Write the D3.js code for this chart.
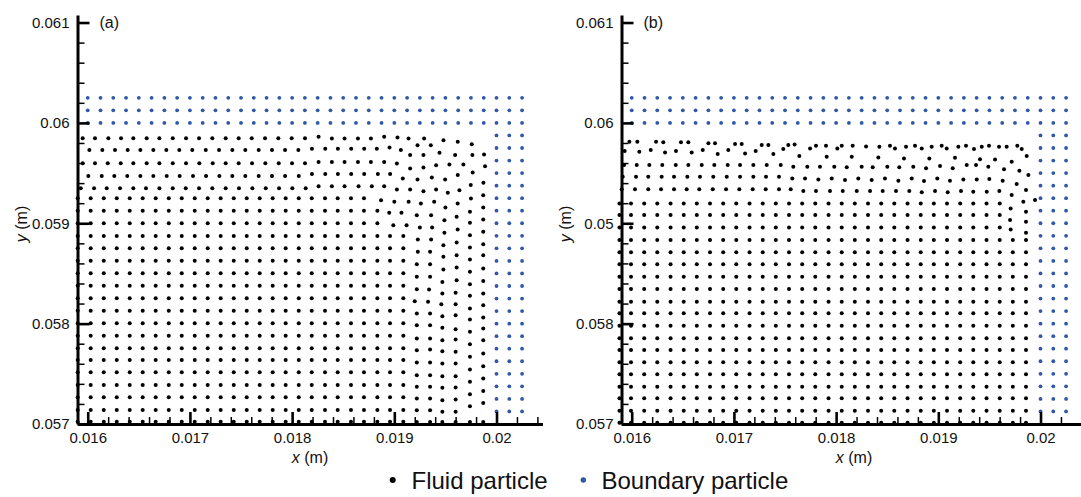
<!DOCTYPE html>
<html>
<head>
<meta charset="utf-8">
<script src="https://cdn.jsdelivr.net/npm/d3@7"></script>
<style>
  html, body { margin: 0; padding: 0; background: #fff; }
  svg { display: block; font-family: "Liberation Sans", Arial, sans-serif; }
</style>
</head>
<body>
<svg id="chart" width="1081" height="497"></svg>
<script>
// Particle positions are stored in millimetres; axis labels show metres.

const xTickValues = [16, 17, 18, 19, 20];
const xTickLabels = ["0.016", "0.017", "0.018", "0.019", "0.02"];
const yTickValues = [57, 58, 59, 60, 61];
const yTickLabelsA = ["0.057", "0.058", "0.059", "0.06", "0.061"];
const yTickLabelsB = ["0.057", "0.058", "0.05", "0.06", "0.061"];

// Boundary particles: top lid (3 layers) and right wall (3 layers)
const lidX = [16.0, 16.125, 16.25, 16.375, 16.5, 16.625, 16.75, 16.875, 17.0, 17.125, 17.25, 17.375,
  17.5, 17.625, 17.75, 17.875, 18.0, 18.125, 18.25, 18.375, 18.5, 18.625, 18.75, 18.875, 19.0,
  19.125, 19.25, 19.375, 19.5, 19.625, 19.75, 19.875, 20.0, 20.125, 20.25];
const lidY = [60.0, 60.125, 60.25];
const wallX = [20.0, 20.125, 20.25];
const wallY = [57.125, 57.25, 57.375, 57.5, 57.625, 57.75, 57.875, 58.0, 58.125, 58.25, 58.375,
  58.5, 58.625, 58.75, 58.875, 59.0, 59.125, 59.25, 59.375, 59.5, 59.625, 59.75, 59.875];

// ---- Case (a): fluid particles ----
const colsA = [15.902, 16.029, 16.157, 16.284, 16.411, 16.538, 16.665, 16.793, 16.920, 17.047,
  17.174, 17.301, 17.429, 17.556, 17.683, 17.810, 17.937, 18.065, 18.192, 18.322, 18.446, 18.576,
  18.703, 18.834, 18.958, 19.088];
const rowsA = [57.023, 57.139, 57.266, 57.388, 57.515, 57.637, 57.754, 57.879, 58.003, 58.129,
  58.252, 58.377, 58.501, 58.627, 58.750, 58.873, 58.999, 59.124, 59.248];
// number of regular columns kept in each row of the bulk
const spanA = [26, 26, 26, 26, 26, 26, 26, 26, 26, 26, 26, 26, 26, 26, 26, 26, 24, 24, 23];
// particles next to the wall
const cornerA = [
  [19.22,57.02],[19.35,57.02],[19.47,57.02],[19.60,57.02],[19.74,57.02],[19.87,57.02],
  [19.22,57.137],[19.35,57.137],[19.47,57.121],[19.60,57.121],[19.74,57.177],[19.87,57.210],
  [19.22,57.254],[19.35,57.254],[19.47,57.237],[19.60,57.244],[19.74,57.297],[19.87,57.330],
  [19.22,57.370],[19.35,57.370],[19.47,57.360],[19.60,57.363],[19.74,57.420],[19.87,57.453],
  [19.22,57.486],[19.35,57.486],[19.47,57.476],[19.60,57.476],[19.74,57.543],[19.87,57.576],
  [19.22,57.612],[19.35,57.612],[19.47,57.602],[19.60,57.602],[19.74,57.669],[19.87,57.702],
  [19.22,57.735],[19.35,57.742],[19.47,57.725],[19.60,57.719],[19.74,57.795],[19.87,57.835],
  [19.22,57.852],[19.35,57.852],[19.47,57.835],[19.60,57.842],[19.74,57.918],[19.87,57.951],
  [19.22,57.984],[19.35,57.984],[19.47,57.958],[19.60,57.945],[19.74,58.041],[19.87,58.061],
  [19.22,58.101],[19.35,58.101],[19.47,58.074],[19.60,58.084],[19.74,58.151],[19.87,58.184],
  [19.20,58.224],[19.33,58.217],[19.46,58.194],[19.60,58.194],[19.74,58.277],[19.87,58.300],
  [19.22,58.343],[19.34,58.340],[19.47,58.300],[19.60,58.307],[19.74,58.393],[19.87,58.426],
  [19.22,58.466],[19.35,58.466],[19.47,58.416],[19.61,58.433],[19.74,58.516],[19.87,58.549],
  [19.22,58.592],[19.35,58.592],[19.48,58.539],[19.61,58.559],[19.74,58.639],[19.87,58.682],
  [19.23,58.715],[19.35,58.715],[19.48,58.666],[19.61,58.682],[19.74,58.759],[19.87,58.792],
  [19.23,58.838],[19.36,58.838],[19.48,58.782],[19.61,58.808],[19.74,58.881],[19.87,58.915],
  [18.99,58.981],[19.12,58.981],[19.25,58.958],[19.37,58.958],[19.49,58.905],[19.62,58.938],[19.74,59.004],[19.87,59.038],
  [18.95,59.104],[19.07,59.104],[19.22,59.081],[19.36,59.081],[19.49,59.031],[19.61,59.064],[19.74,59.114],[19.87,59.157],
  [18.87,59.230],[19.00,59.214],[19.14,59.214],[19.26,59.197],[19.39,59.214],[19.50,59.157],[19.62,59.197],[19.75,59.247],[19.87,59.280]
];
// top five layers of the free surface
const surfaceA = [
  [15.932,59.348],[16.062,59.348],[16.186,59.348],[16.316,59.348],[16.446,59.348],[16.570,59.348],
  [16.701,59.348],[16.832,59.348],[16.959,59.348],[17.089,59.348],[17.219,59.348],[17.350,59.348],
  [17.480,59.348],[17.611,59.348],[17.742,59.348],[17.872,59.348],[18.002,59.348],[18.133,59.348],
  [18.259,59.37],[18.389,59.37],[18.513,59.37],[18.650,59.37],[18.780,59.37],[18.901,59.37],
  [19.025,59.337],[19.155,59.337],[19.285,59.320],[19.409,59.337],[19.523,59.303],[19.637,59.330],
  [19.748,59.380],[19.872,59.403],
  [16.006,59.47],[16.137,59.47],[16.260,59.47],[16.387,59.47],[16.515,59.47],[16.642,59.47],
  [16.773,59.47],[16.900,59.47],[17.030,59.47],[17.158,59.47],[17.288,59.47],[17.415,59.47],
  [17.542,59.47],[17.673,59.47],[17.803,59.47],[17.931,59.47],[18.065,59.47],
  [18.194,59.49],[18.324,59.49],[18.448,59.49],[18.578,59.49],[18.705,59.49],[18.839,59.49],[18.959,59.49],
  [19.083,59.446],[19.227,59.436],[19.367,59.456],[19.497,59.436],[19.621,59.480],[19.767,59.506],
  [15.951,59.597],[16.071,59.597],[16.196,59.597],[16.323,59.597],[16.446,59.597],[16.577,59.597],
  [16.701,59.597],[16.832,59.597],[16.962,59.597],[17.092,59.597],[17.223,59.597],[17.350,59.597],
  [17.477,59.597],[17.608,59.597],[17.738,59.597],[17.869,59.597],[17.999,59.597],[18.126,59.597],
  [18.259,59.61],[18.389,59.61],[18.513,59.61],[18.644,59.61],[18.771,59.61],[18.901,59.61],
  [19.025,59.596],[19.155,59.546],[19.285,59.556],[19.409,59.579],[19.539,59.586],[19.676,59.586],[19.888,59.569],
  [16.016,59.729],[16.143,59.729],[16.267,59.729],[16.391,59.729],[16.515,59.729],[16.642,59.729],
  [16.769,59.729],[16.896,59.729],[17.023,59.729],[17.155,59.729],[17.285,59.729],[17.415,59.729],
  [17.542,59.729],[17.673,59.729],[17.803,59.729],[17.931,59.729],[18.061,59.729],
  [18.194,59.742],[18.324,59.742],[18.448,59.742],[18.578,59.742],[18.705,59.742],[18.829,59.742],
  [18.953,59.755],[19.064,59.729],[19.227,59.778],[19.357,59.778],
  [19.155,59.679],[19.285,59.679],[19.442,59.702],[19.595,59.679],[19.764,59.679],[19.878,59.685],
  [15.951,59.846],[16.071,59.846],[16.202,59.846],[16.326,59.846],[16.446,59.846],[16.577,59.846],
  [16.701,59.846],[16.832,59.846],[16.962,59.846],[17.089,59.846],[17.219,59.846],[17.350,59.846],
  [17.477,59.846],[17.605,59.846],[17.735,59.846],[17.865,59.846],[17.996,59.846],[18.126,59.846],
  [18.259,59.862],[18.389,59.845],[18.513,59.845],[18.644,59.845],[18.771,59.845],[18.901,59.862],
  [19.031,59.855],[19.139,59.845],[19.292,59.845],[19.481,59.828],[19.621,59.812],[19.758,59.788]
];

// ---- Case (b): fluid particles ----
const colsB = [15.88, 15.993, 16.122, 16.250, 16.380, 16.509, 16.637, 16.766, 16.895, 17.023,
  17.153, 17.282, 17.410, 17.539, 17.668, 17.796, 17.926, 18.055, 18.183, 18.312, 18.441, 18.569,
  18.699, 18.828, 18.956, 19.085, 19.214, 19.342, 19.472, 19.601, 19.729, 19.858];
const rowsB = [57.013, 57.132, 57.256, 57.372, 57.495, 57.615, 57.737, 57.854, 57.979, 58.103,
  58.218, 58.345, 58.467, 58.591, 58.710, 58.833, 58.959, 59.082, 59.198];
const spanB = [32, 32, 32, 32, 32, 32, 32, 32, 32, 32, 32, 32, 32, 32, 32, 32, 30, 30, 30];
const cornerB = [
  [19.708,58.939],[19.858,58.905],[19.702,59.032],[19.858,59.015],
  [19.708,59.148],[19.858,59.115],[19.946,59.231]
];
const surfaceB = [
  [15.902,59.338],[16.032,59.338],[16.162,59.338],[16.287,59.338],[16.414,59.338],[16.538,59.338],
  [16.661,59.338],[16.793,59.338],[16.923,59.338],[17.053,59.338],[17.184,59.338],[17.311,59.338],
  [17.441,59.338],[17.556,59.338],[17.679,59.321],[17.803,59.321],[17.940,59.321],[18.065,59.321],
  [18.202,59.321],[18.332,59.321],[18.456,59.321],[18.586,59.321],[18.716,59.321],[18.838,59.308],
  [18.968,59.321],[19.092,59.308],[19.222,59.321],[19.342,59.314],[19.474,59.314],[19.597,59.321],
  [19.718,59.281],[19.832,59.214],
  [15.912,59.463],[16.042,59.463],[16.162,59.463],[16.293,59.463],[16.414,59.463],[16.544,59.463],
  [16.668,59.463],[16.798,59.463],[16.930,59.463],[17.060,59.463],[17.190,59.463],[17.314,59.463],
  [17.441,59.463],[17.571,59.447],[17.696,59.447],[17.826,59.437],[17.957,59.447],[18.087,59.430],
  [18.217,59.447],[18.348,59.430],[18.478,59.447],[18.609,59.423],[18.740,59.447],[18.860,59.420],
  [18.990,59.447],[19.114,59.423],[19.245,59.437],[19.376,59.437],[19.499,59.440],[19.630,59.423],
  [19.767,59.390],[19.858,59.331],
  [15.925,59.580],[16.049,59.580],[16.172,59.580],[16.299,59.580],[16.431,59.580],[16.554,59.580],
  [16.685,59.580],[16.808,59.580],[16.939,59.580],[17.060,59.580],[17.190,59.580],[17.321,59.580],
  [17.458,59.580],[17.581,59.563],[17.718,59.563],[17.842,59.563],[17.982,59.563],[18.104,59.557],
  [18.250,59.563],[18.358,59.557],[18.501,59.563],[18.618,59.557],[18.755,59.563],[18.880,59.547],
  [19.017,59.570],[19.141,59.547],[19.278,59.580],[19.369,59.580],[19.489,59.563],[19.643,59.537],
  [19.793,59.523],[19.881,59.480],
  [15.931,59.719],[16.074,59.712],[16.186,59.729],[16.326,59.706],[16.433,59.719],[16.587,59.706],
  [16.695,59.729],[16.841,59.689],[16.945,59.729],[17.109,59.696],[17.213,59.719],[17.386,59.689],
  [17.483,59.739],[17.640,59.669],[17.908,59.662],[18.153,59.662],[18.413,59.656],[18.664,59.646],
  [18.912,59.646],[19.163,59.652],[19.408,59.639],[19.555,59.636],[19.718,59.613],[19.865,59.669],
  [15.977,59.812],[16.055,59.812],[16.238,59.812],[16.309,59.806],[16.482,59.806],[16.554,59.806],
  [16.750,59.796],[16.815,59.796],[17.011,59.789],[17.076,59.789],[17.272,59.779],[17.337,59.779],
  [17.532,59.779],[17.594,59.784],[17.745,59.746],[17.803,59.772],[17.901,59.772],[18.012,59.746],
  [18.055,59.772],[18.162,59.772],[18.293,59.764],[18.423,59.762],[18.527,59.772],[18.576,59.746],
  [18.684,59.762],[18.772,59.772],[18.838,59.746],[18.935,59.762],[19.033,59.772],[19.082,59.746],
  [19.196,59.762],[19.271,59.772],[19.349,59.739],[19.425,59.762],[19.496,59.772],[19.594,59.762],
  [19.669,59.762],[19.773,59.772],[19.816,59.739]
];

const legendLabels = ["Fluid particle", "Boundary particle"];
const fluidColor = "#000000";
const boundaryColor = "#3057a8";

const svg = d3.select("#chart");

function fluidPoints(cols, rows, span, corner, surface) {
  const pts = [];
  rows.forEach((y, i) => cols.slice(0, span[i]).forEach(x => pts.push([x, y])));
  return pts.concat(corner, surface);
}

function boundaryPoints() {
  const pts = [];
  lidY.forEach(y => lidX.forEach(x => pts.push([x, y])));
  wallY.forEach(y => wallX.forEach(x => pts.push([x, y])));
  return pts;
}

const panels = [
  { left: 77.5, tag: "(a)", yLabels: yTickLabelsA,
    fluid: fluidPoints(colsA, rowsA, spanA, cornerA, surfaceA) },
  { left: 621.5, tag: "(b)", yLabels: yTickLabelsB,
    fluid: fluidPoints(colsB, rowsB, spanB, cornerB, surfaceB) }
];

const plotW = 465, yTop = 15, yBottom = 424;
const minorX = d3.range(16, 20.45, 0.2).filter(v => Math.abs(v - Math.round(v)) > 1e-6);
const minorY = d3.range(57, 61.05, 0.2).filter(v => Math.abs(v - Math.round(v)) > 1e-6);

panels.forEach(p => {
  const x = d3.scaleLinear().domain([15.9, 20.45]).range([p.left, p.left + plotW]);
  const y = d3.scaleLinear().domain([57, 61.075]).range([yBottom, yTop]);
  const g = svg.append("g");

  g.append("g").selectAll("circle").data(boundaryPoints()).join("circle")
    .attr("cx", d => x(d[0])).attr("cy", d => y(d[1])).attr("r", 1.9)
    .attr("fill", boundaryColor);

  g.append("g").selectAll("circle").data(p.fluid).join("circle")
    .attr("cx", d => x(d[0])).attr("cy", d => y(d[1])).attr("r", 2.0)
    .attr("fill", fluidColor);

  // minor ticks
  g.append("g").attr("transform", `translate(0,${yBottom})`)
    .call(d3.axisBottom(x).tickValues(minorX).tickFormat("").tickSize(-7).tickSizeOuter(0))
    .call(a => a.select(".domain").remove())
    .call(a => a.selectAll("line").attr("stroke", "#000").attr("stroke-width", 1.5));
  g.append("g").attr("transform", `translate(${p.left},0)`)
    .call(d3.axisLeft(y).tickValues(minorY).tickFormat("").tickSize(-7).tickSizeOuter(0))
    .call(a => a.select(".domain").remove())
    .call(a => a.selectAll("line").attr("stroke", "#000").attr("stroke-width", 1.5));

  // major axes
  const xa = g.append("g").attr("transform", `translate(0,${yBottom})`)
    .call(d3.axisBottom(x).tickValues(xTickValues).tickFormat((d, i) => xTickLabels[i])
      .tickSize(-12).tickSizeOuter(0).tickPadding(8));
  const ya = g.append("g").attr("transform", `translate(${p.left},0)`)
    .call(d3.axisLeft(y).tickValues(yTickValues).tickFormat((d, i) => p.yLabels[i])
      .tickSize(-12).tickSizeOuter(0).tickPadding(8));
  [xa, ya].forEach(a => {
    a.attr("font-family", null).attr("font-size", null);
    a.select(".domain").attr("stroke", "#000").attr("stroke-width", 3);
    a.selectAll(".tick line").attr("stroke", "#000").attr("stroke-width", 2.6);
    a.selectAll(".tick text").attr("fill", "#111").style("font-size", "15px")
      .style("font-family", '"Liberation Sans", Arial, sans-serif');
  });

  // axis titles
  const xt = g.append("text").attr("x", p.left + plotW / 2).attr("y", 463)
    .attr("text-anchor", "middle").style("font-size", "16px").attr("fill", "#111");
  xt.append("tspan").style("font-style", "italic").text("x");
  xt.append("tspan").text(" (m)");
  const yt = g.append("text")
    .attr("transform", `translate(${p.left - 51},224) rotate(-90)`)
    .attr("text-anchor", "middle").style("font-size", "16px").attr("fill", "#111");
  yt.append("tspan").style("font-style", "italic").text("y");
  yt.append("tspan").text(" (m)");

  g.append("text").attr("x", p.left + 22).attr("y", 28)
    .style("font-size", "16px").attr("fill", "#111").text(p.tag);
});

// legend
const legend = svg.append("g");
const legendItems = [
  { label: legendLabels[0], color: fluidColor, cx: 392.7, tx: 411.5, r: 3.0 },
  { label: legendLabels[1], color: boundaryColor, cx: 583.3, tx: 601.5, r: 2.7 }
];
legendItems.forEach(it => {
  legend.append("circle").attr("cx", it.cx).attr("cy", 480).attr("r", it.r).attr("fill", it.color);
  legend.append("text").attr("x", it.tx).attr("y", 488.5).style("font-size", "24px")
    .attr("fill", "#111").text(it.label);
});
</script>
</body>
</html>
